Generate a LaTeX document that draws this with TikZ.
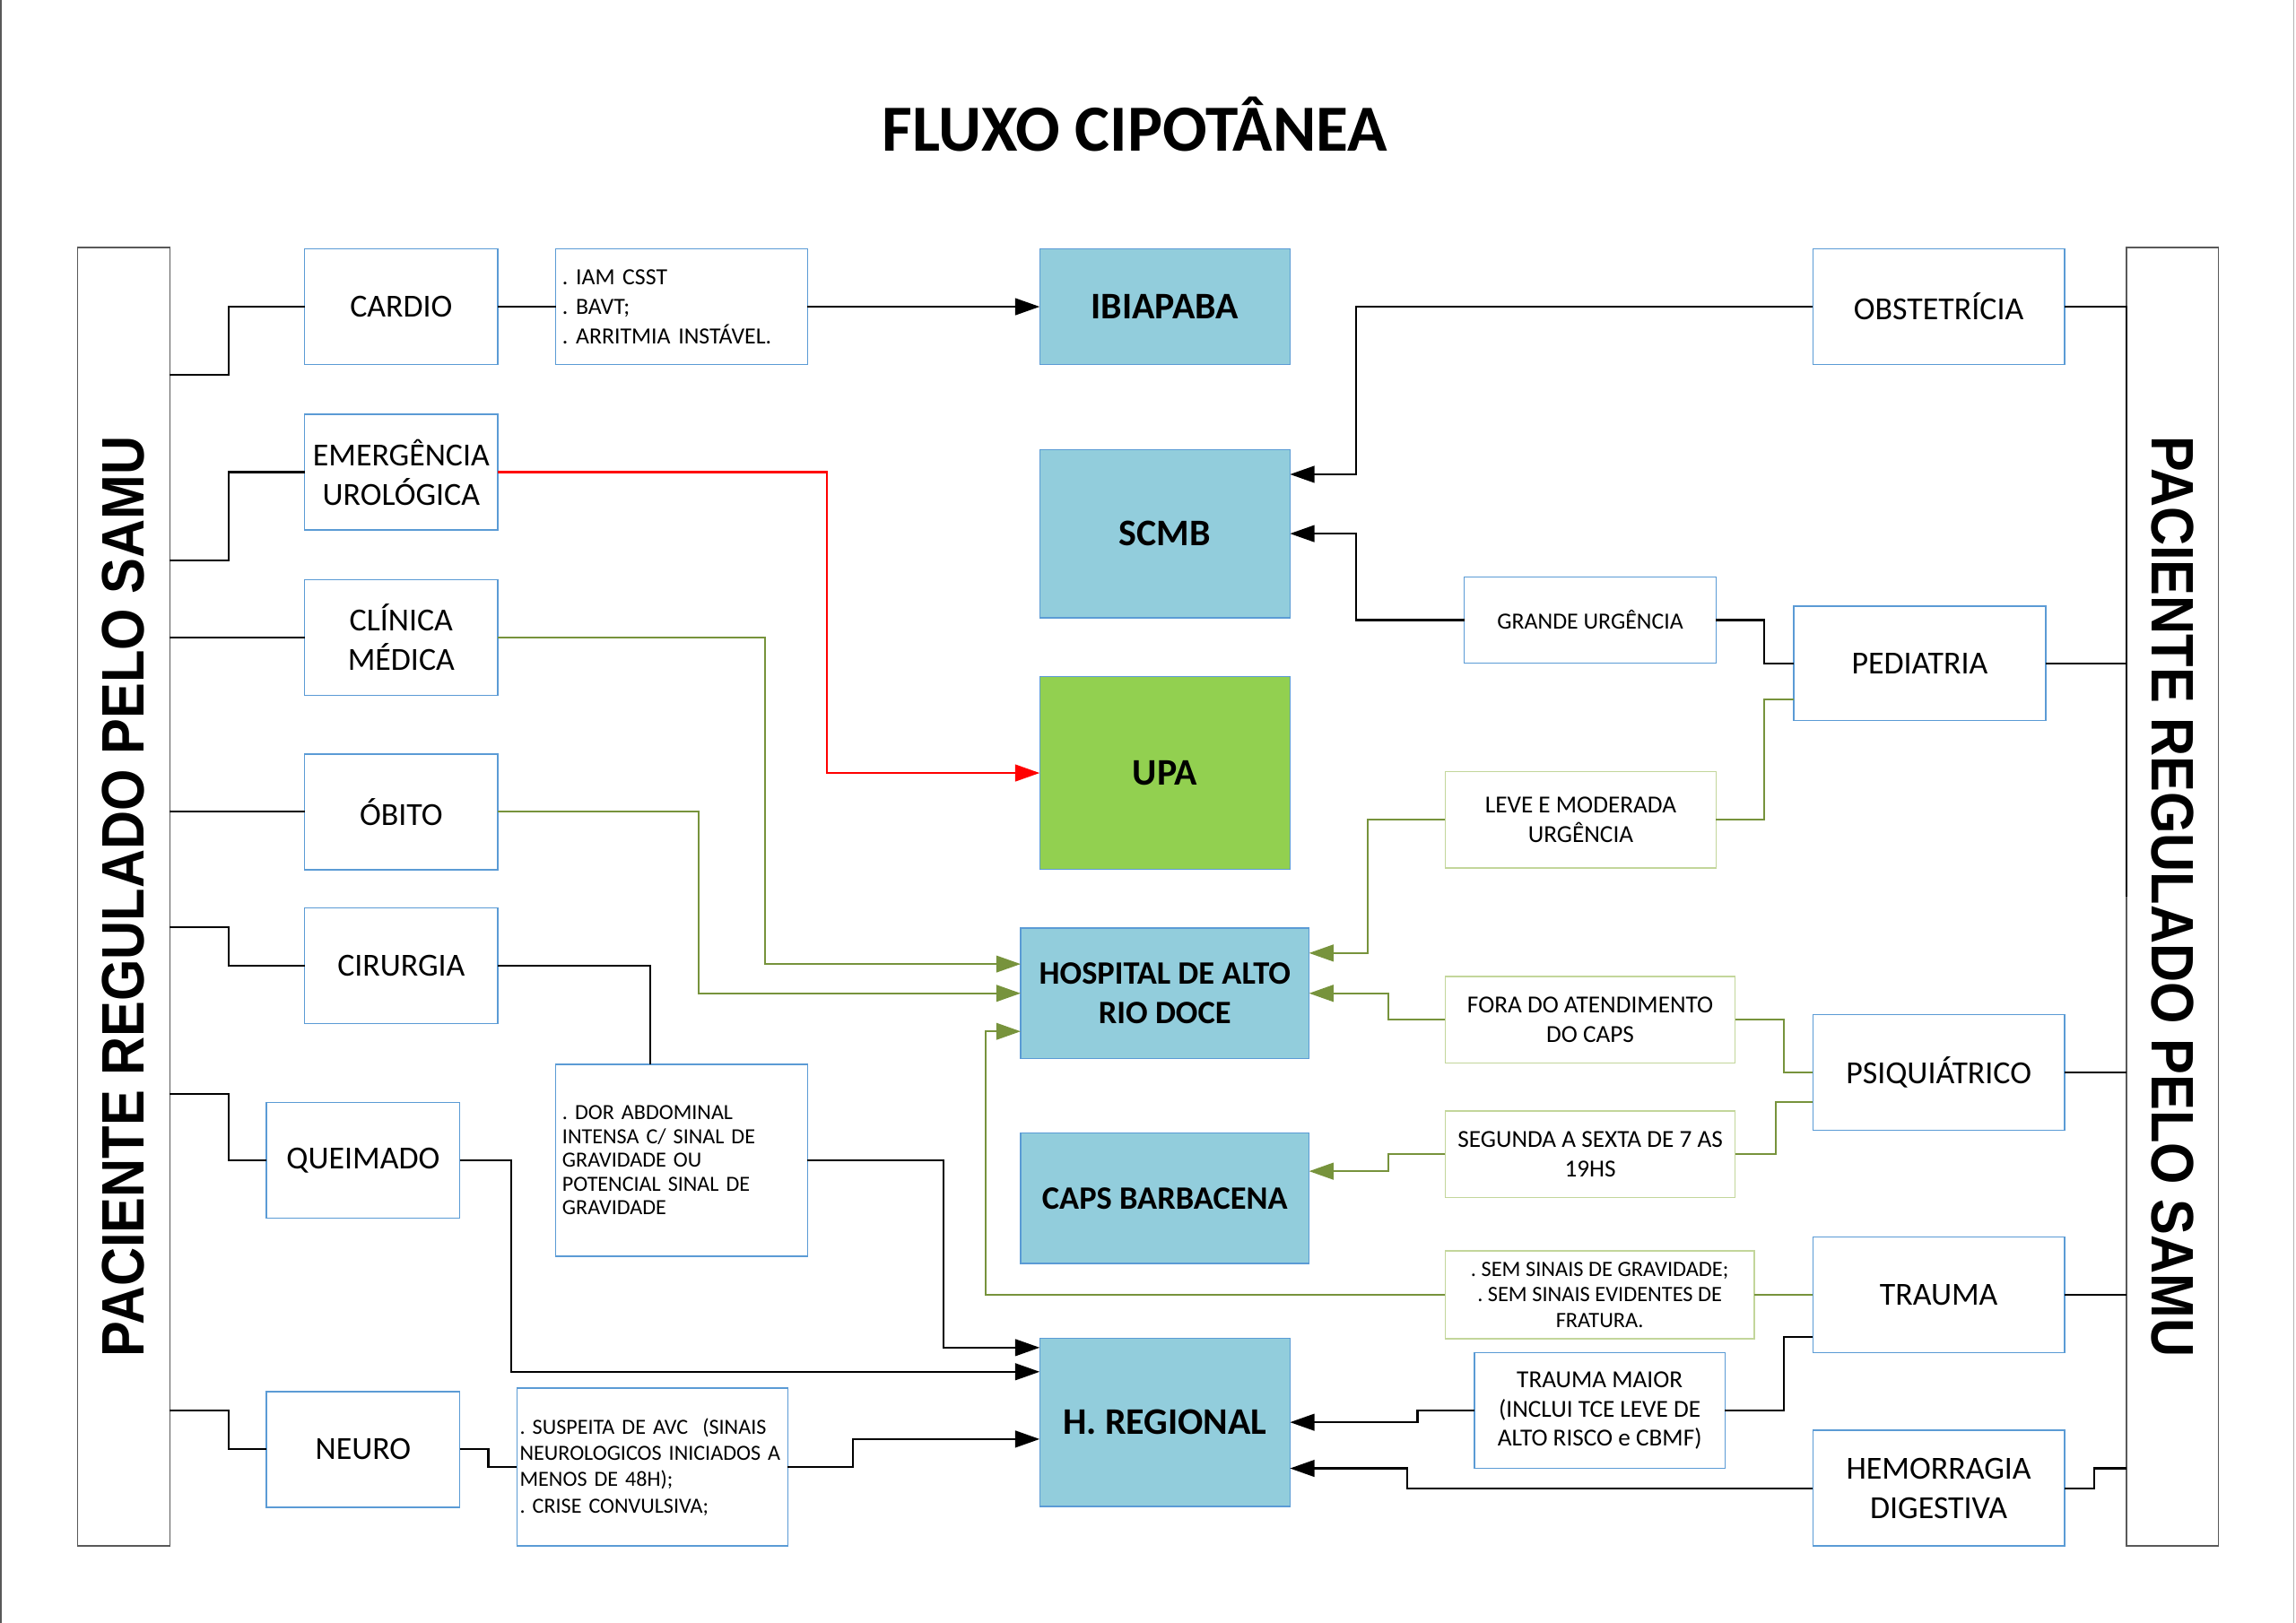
\documentclass[tikz,border=0pt]{standalone}
\usepackage{fontspec}
\setmainfont{Carlito}
\newfontfamily\samufont{Liberation Sans}
\usepackage{xcolor}
\usepackage{tikz}
\usetikzlibrary{arrows.meta,positioning,calc}

\definecolor{azulhosp}{HTML}{92CDDC}
\definecolor{azulborda}{HTML}{5B9BD5}
\definecolor{verdeupa}{HTML}{92D050}
\definecolor{verdelinha}{HTML}{77933C}
\definecolor{verdenota}{HTML}{C3D69B}
\definecolor{cinza}{HTML}{595959}

\frenchspacing

\begin{document}
\begin{tikzpicture}[x=0.02cm, y=-0.02cm,
  caixa/.style={draw=azulborda, line width=0.5pt, fill=white, minimum width=3.44cm, minimum height=1.58cm, inner sep=0pt, outer sep=0pt, align=center, font=\fontsize{12.5}{15.3}\selectfont},
  hosp/.style={caixa, fill=azulhosp, minimum width=3.42cm, font=\bfseries\fontsize{14.6}{17}\selectfont},
  nota/.style={caixa, minimum height=1.18cm, font=\fontsize{9.5}{11.6}\selectfont},
  notav/.style={nota, draw=verdenota},
  notaesq/.style={nota, align=left, inner xsep=0.08cm},
  painel/.style={draw=cinza, line width=0.6pt, minimum width=1.26cm, minimum height=17.74cm, inner sep=0pt, outer sep=0pt, font=\samufont\bfseries\fontsize{20.8}{24}\selectfont},
  lig/.style={line width=0.75pt, black},
  ligv/.style={line width=0.75pt, verdelinha},
  ligr/.style={line width=0.75pt, red},
  seta/.style={-{Triangle[length=9.5pt,width=6.5pt]}}
]

\useasboundingbox (0,0) rectangle (1568,1108.6);

% Page edges
\draw[cinza, line width=0.7pt] (0.6,0) -- (0.6,1108.6);
\draw[gray!60, line width=0.5pt] (1566.5,0) -- (1566.5,1108.6);

% Title
\node[font=\bfseries\fontsize{25.6}{30}\selectfont] (titulo) at (775,85) {FLUXO CIPOTÂNEA};

% Side panels
\node[painel] (lpan) at (84.5,612.5) {\rotatebox{90}{\scalebox{1}[1.12]{PACIENTE REGULADO PELO SAMU}}};
\node[painel] (rpan) at (1483.5,612.5) {\rotatebox{-90}{\scalebox{1}[1.12]{PACIENTE REGULADO PELO SAMU}}};

% Left column: specialties
\node[caixa, minimum width=2.64cm] (cardio) at (274,209.5) {CARDIO};
\node[caixa, minimum width=2.64cm] (emerg) at (274,322.5) {EMERGÊNCIA\\UROLÓGICA};
\node[caixa, minimum width=2.64cm] (clinica) at (274,435.5) {CLÍNICA\\MÉDICA};
\node[caixa, minimum width=2.64cm] (obito) at (274,554.5) {ÓBITO};
\node[caixa, minimum width=2.64cm] (cirurgia) at (274,659.5) {CIRURGIA};
\node[caixa, minimum width=2.64cm] (queimado) at (248,792.5) {QUEIMADO};
\node[caixa, minimum width=2.64cm] (neuro) at (248,990) {NEURO};

% Left criteria
\node[notaesq, text width=3.26cm, minimum height=1.58cm, font=\fontsize{9}{11.4}\selectfont] (iam) at (465.5,209.5) {. IAM CSST\\. BAVT;\\. ARRITMIA INSTÁVEL.};
\node[notaesq, text width=3.26cm, minimum height=2.62cm, font=\fontsize{8.4}{9.2}\selectfont] (dor) at (465.5,792.5) {. DOR ABDOMINAL\\INTENSA C/ SINAL DE\\GRAVIDADE OU\\POTENCIAL SINAL DE\\GRAVIDADE};
\node[notaesq, inner xsep=0.04cm, text width=3.62cm, minimum height=2.16cm, font=\fontsize{8.4}{10.2}\selectfont] (avc) at (445.5,1002) {. SUSPEITA DE AVC~~(SINAIS\\NEUROLOGICOS INICIADOS A\\MENOS DE 48H);\\. CRISE CONVULSIVA;};

% Hospitals
\node[hosp] (ibiapaba) at (795.5,209.5) {IBIAPABA};
\node[hosp, minimum height=2.3cm] (scmb) at (795.5,364.5) {SCMB};
\node[hosp, fill=verdeupa, minimum height=2.64cm] (upa) at (795.5,528) {UPA};
\node[hosp, minimum width=3.94cm, minimum height=1.78cm, font=\bfseries\fontsize{12.7}{15.2}\selectfont] (hard) at (795.5,678.5) {HOSPITAL DE ALTO\\RIO DOCE};
\node[hosp, minimum width=3.94cm, minimum height=1.78cm, font=\bfseries\fontsize{12.7}{15.2}\selectfont] (caps) at (795.5,818.5) {CAPS BARBACENA};
\node[hosp, minimum height=2.3cm] (hreg) at (795.5,971.5) {H. REGIONAL};

% Right column: specialties
\node[caixa] (obst) at (1324,209.5) {OBSTETRÍCIA};
\node[caixa, minimum height=1.56cm] (pedi) at (1311,453) {PEDIATRIA};
\node[caixa] (psiq) at (1324,732.5) {PSIQUIÁTRICO};
\node[caixa] (trauma) at (1324,884.5) {TRAUMA};
\node[caixa] (hemo) at (1324,1016.5) {HEMORRAGIA\\DIGESTIVA};

% Right criteria
\node[nota, font=\fontsize{9}{11}\selectfont] (grande) at (1086,423.5) {GRANDE URGÊNCIA};
\node[notav, minimum width=3.7cm, minimum height=1.32cm] (leve) at (1079.5,560) {LEVE E MODERADA\\URGÊNCIA};
\node[notav, minimum width=3.96cm] (fora) at (1086,696.5) {FORA DO ATENDIMENTO\\DO CAPS};
\node[notav, minimum width=3.96cm] (segunda) at (1086,788.5) {SEGUNDA A SEXTA DE 7 AS\\19HS};
\node[notav, minimum width=4.22cm, minimum height=1.2cm, font=\fontsize{8.5}{10}\selectfont] (semsin) at (1092.5,884.5) {. SEM SINAIS DE GRAVIDADE;\\. SEM SINAIS EVIDENTES DE\\FRATURA.};
\node[nota, minimum width=3.42cm, minimum height=1.58cm, font=\fontsize{9.5}{11.4}\selectfont] (tmaior) at (1092.5,963.5) {TRAUMA MAIOR\\(INCLUI TCE LEVE DE\\ALTO RISCO e CBMF)};

% Left panel links
\draw[lig] ($(lpan.east)+(0,-356.5)$) -- ++(40,0) |- (cardio.west);
\draw[lig] ($(lpan.east)+(0,-229.5)$) -- ++(40,0) |- (emerg.west);
\draw[lig] (lpan.east |- clinica.west) -- (clinica.west);
\draw[lig] (lpan.east |- obito.west) -- (obito.west);
\draw[lig] ($(lpan.east)+(0,21)$) -- ++(40,0) |- (cirurgia.west);
\draw[lig] ($(lpan.east)+(0,135)$) -- ++(40,0) |- (queimado.west);
\draw[lig] ($(lpan.east)+(0,351)$) -- ++(40,0) |- (neuro.west);

% Left flows
\draw[lig] (cardio.east) -- (iam.west);
\draw[lig, seta] (iam.east) -- (ibiapaba.west);
\draw[ligr, seta] (emerg.east) -- ++(224.5,0) |- (upa.west);
\draw[ligv, seta] (clinica.east) -- ++(182.5,0) |- ($(hard.west)+(0,-20)$);
\draw[ligv, seta] (obito.east) -- ++(137,0) |- (hard.west);
\draw[lig] (cirurgia.east) -| ($(dor.north)+(-21.5,0)$);
\draw[lig, seta] (dor.east) -- ++(93,0) |- ($(hreg.west)+(0,-51)$);
\draw[lig, seta] (queimado.east) -- ++(35,0) |- ($(hreg.west)+(0,-34.5)$);
\draw[lig] (neuro.east) -- ++(19.5,0) |- (avc.west);
\draw[lig, seta] (avc.east) -- ++(44.5,0) |- ($(hreg.west)+(0,11.5)$);

% Right panel links
\draw[lig] (obst.east) -- (rpan.west |- obst.east) -- (rpan.west);
\draw[lig] (pedi.east) -- (rpan.west |- pedi.east);
\draw[lig] (psiq.east) -- (rpan.west |- psiq.east);
\draw[lig] (trauma.east) -- (rpan.west |- trauma.east);
\draw[lig] (hemo.east) -- ++(20,0) |- ($(rpan.west)+(0,390.5)$);

% Right flows
\draw[lig, seta] (obst.west) -- ++(-312,0) |- ($(scmb.east)+(0,-40.5)$);
\draw[lig, seta] (grande.west) -- ++(-74,0) |- (scmb.east);
\draw[lig] (pedi.west) -- ++(-20,0) |- (grande.east);
\draw[ligv] ($(pedi.west)+(0,24.5)$) -- ++(-20,0) |- (leve.east);
\draw[ligv, seta] (leve.west) -- ++(-53,0) |- ($(hard.east)+(0,-27.5)$);
\draw[ligv, seta] (fora.west) -- ++(-39,0) |- (hard.east);
\draw[ligv] (psiq.west) -- ++(-20,0) |- (fora.east);
\draw[ligv] ($(psiq.west)+(0,20.5)$) -- ++(-25.5,0) |- (segunda.east);
\draw[ligv, seta] (segunda.west) -- ++(-39,0) |- ($(caps.east)+(0,-18.5)$);
\draw[ligv] (trauma.west) -- (semsin.east);
\draw[ligv, seta] (semsin.west) -- ++(-314,0) |- ($(hard.west)+(0,26)$);
\draw[lig] ($(trauma.west)+(0,28.5)$) -- ++(-20,0) |- (tmaior.east);
\draw[lig, seta] (tmaior.west) -- ++(-39,0) |- (hreg.east);
\draw[lig, seta] (hemo.west) -- ++(-277,0) |- ($(hreg.east)+(0,31.5)$);

\end{tikzpicture}
\end{document}
